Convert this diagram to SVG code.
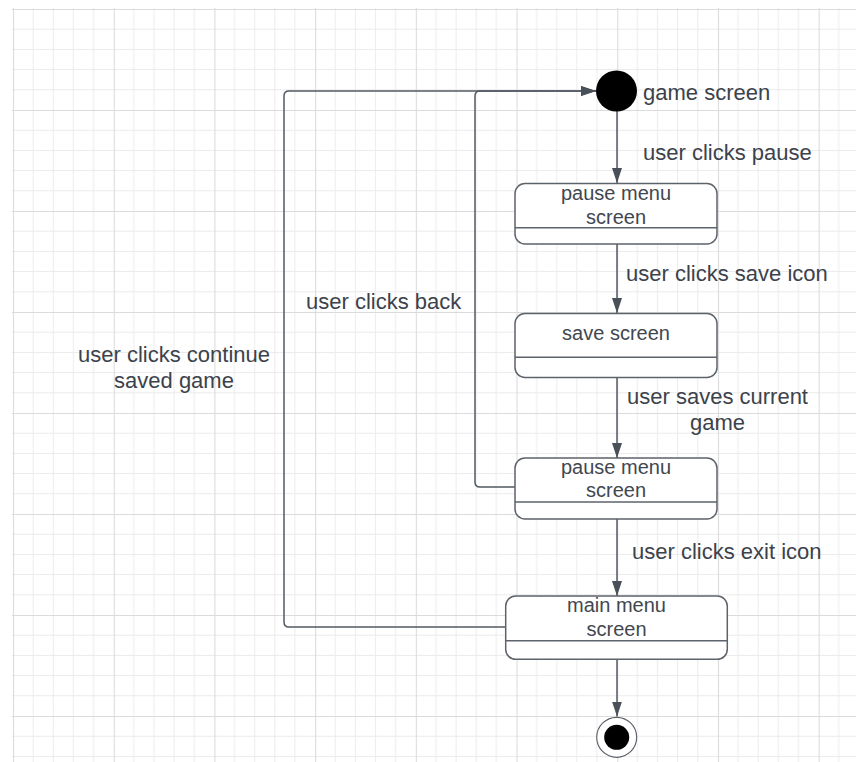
<svg xmlns="http://www.w3.org/2000/svg" width="856" height="762" viewBox="0 0 856 762">
<style>
.node{fill:#ffffff;stroke:#5d636b;stroke-width:1.5}
.div{stroke:#5d636b;stroke-width:1.5}
.nt{font-family:"Liberation Sans",Arial,sans-serif;font-size:20px;fill:#42474f;text-anchor:middle}
.lb{font-family:"Liberation Sans",Arial,sans-serif;font-size:22px;fill:#3c424b}
.c{fill:none;stroke:#535a63;stroke-width:1.5}
.minor{stroke:#ececec;stroke-width:1}
.major{stroke:#dbdbdb;stroke-width:1.2}
</style>
<defs>
<marker id="ah" markerUnits="userSpaceOnUse" markerWidth="16" markerHeight="11" refX="15" refY="5" orient="auto">
<path d="M0,0 L15,5 L0,10 z" fill="#4a5059"/>
</marker>
<pattern id="grid" patternUnits="userSpaceOnUse" x="13" y="9" width="100.7" height="101">
<path class="minor" d="M20.14,0V101M40.28,0V101M60.42,0V101M80.56,0V101M0,20.2H100.7M0,40.4H100.7M0,60.6H100.7M0,80.8H100.7"/>
<path class="major" d="M0.5,0V101M0,0.5H100.7"/>
</pattern>
</defs>
<rect width="856" height="762" fill="#ffffff"/>
<rect x="12" y="8" width="844" height="754" fill="url(#grid)"/>

<g id="connectors">
<path class="c" d="M617,111V183" marker-end="url(#ah)"/>
<path class="c" d="M617,244V313" marker-end="url(#ah)"/>
<path class="c" d="M617,377.5V458" marker-end="url(#ah)"/>
<path class="c" d="M617,519V596" marker-end="url(#ah)"/>
<path class="c" d="M617,659.5V716.5" marker-end="url(#ah)"/>
<path class="c" d="M515,487H480Q475,487 475,482V96Q475,91 480,91H596" marker-end="url(#ah)"/>
<path class="c" d="M505.7,627H289Q284,627 284,622V96Q284,91 289,91H596" marker-end="url(#ah)"/>
<text class="lb" x="643" y="160">user clicks pause</text>
<text class="lb" x="626" y="281">user clicks save icon</text>
<text class="lb" x="717.5" y="404" text-anchor="middle">user saves current</text>
<text class="lb" x="717.5" y="430" text-anchor="middle">game</text>
<text class="lb" x="632" y="559">user clicks exit icon</text>
<text class="lb" x="306" y="309">user clicks back</text>
<text class="lb" x="174" y="362" text-anchor="middle">user clicks continue</text>
<text class="lb" x="174" y="388" text-anchor="middle">saved game</text>
</g>

<g id="start">
<circle cx="616.5" cy="91" r="20.5" fill="#000000"/>
<text class="lb" x="643" y="100">game screen</text>
</g>

<g id="pause1">
<rect class="node" x="515" y="183.5" width="202" height="60.5" rx="10"/>
<line class="div" x1="515" y1="227.7" x2="717" y2="227.7"/>
<text class="nt" x="616" y="200">pause menu</text>
<text class="nt" x="616" y="224">screen</text>
</g>

<g id="save">
<rect class="node" x="515" y="313.5" width="202" height="64" rx="10"/>
<line class="div" x1="515" y1="357.3" x2="717" y2="357.3"/>
<text class="nt" x="616" y="340">save screen</text>
</g>

<g id="pause2">
<rect class="node" x="515" y="458" width="202" height="61" rx="10"/>
<line class="div" x1="515" y1="502" x2="717" y2="502"/>
<text class="nt" x="616" y="474">pause menu</text>
<text class="nt" x="616" y="497">screen</text>
</g>

<g id="mainmenu">
<rect class="node" x="505.7" y="596" width="221.6" height="63.3" rx="10"/>
<line class="div" x1="505.7" y1="640.7" x2="727.3" y2="640.7"/>
<text class="nt" x="616.5" y="612">main menu</text>
<text class="nt" x="616.5" y="636">screen</text>
</g>

<g id="end">
<circle cx="616.7" cy="737.3" r="20" fill="#ffffff" stroke="#5d636b" stroke-width="1.2"/>
<circle cx="616.7" cy="737.3" r="12.5" fill="#000000"/>
</g>
</svg>
